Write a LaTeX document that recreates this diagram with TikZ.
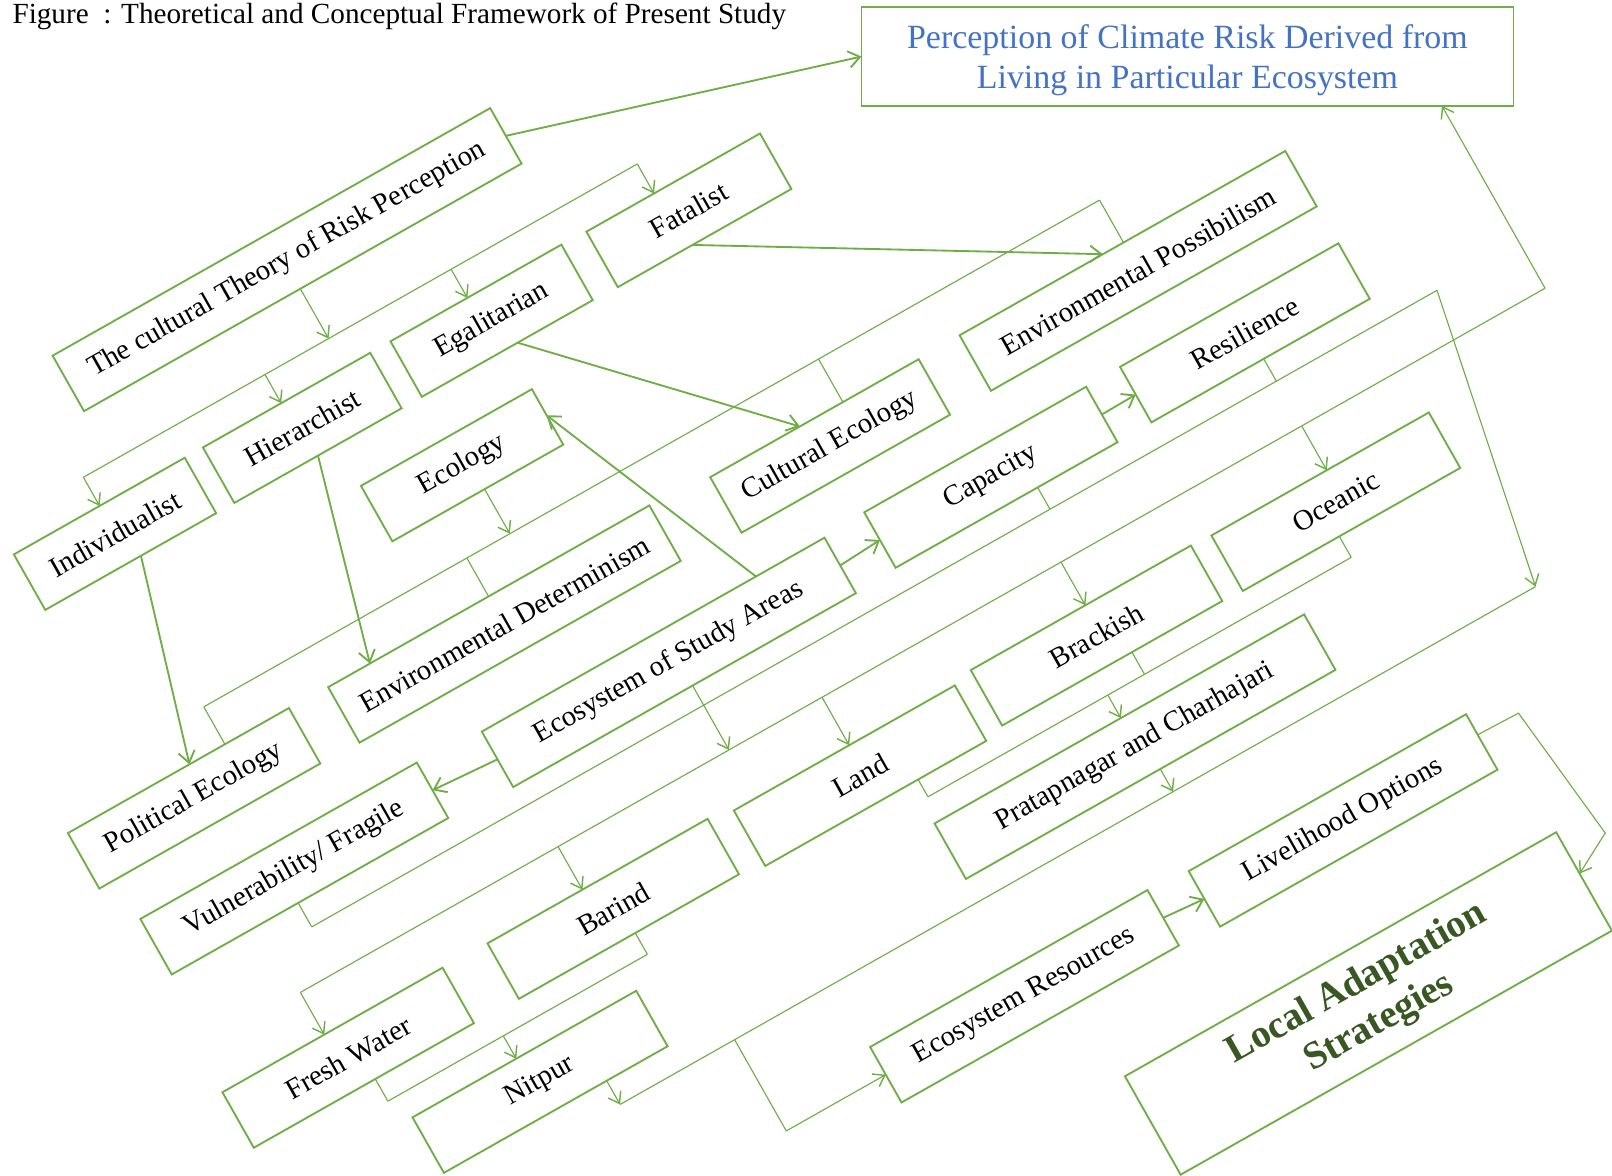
\documentclass[tikz,border=0pt]{standalone}
\usepackage{fontspec}
\setmainfont{Liberation Serif}
\usetikzlibrary{calc,arrows.meta,intersections}
\definecolor{leaf}{HTML}{70AD47}
\definecolor{sky}{HTML}{4472C4}
\definecolor{moss}{HTML}{385723}
\tikzset{
  box/.style={draw=leaf, line width=1.8pt, rectangle, inner sep=0pt, outer sep=0pt,
    minimum height=62pt, rotate=29.5, align=center, text=black,
    font=\fontsize{28}{32}\selectfont},
  link/.style={draw=leaf, line width=1.8pt, -{Straight Barb[length=11pt,width=16pt]}},
  wire/.style={draw=leaf, line width=1.1pt},
  wirearrow/.style={wire, -{Straight Barb[length=10pt,width=14pt,line width=1.4pt]}},
}
\begin{document}
\begin{tikzpicture}[x=1pt,y=-1pt]
\useasboundingbox (0,0) rectangle (1568,1143);
\fill[white] (0,0) rectangle (1568,1143);

% heading
\node[anchor=base west, inner sep=0pt, font=\fontsize{28.4}{32}\selectfont] (title) at (12,23)
  {Figure\ \ : Theoretical and Conceptual Framework of Present Study};

% upright box at the top
\node[draw=leaf, line width=1.6pt, minimum width=634pt, minimum height=96pt,
  inner sep=0pt, outer sep=0pt, align=center, text=sky,
  font=\fontsize{33}{39}\selectfont] (perc) at (1155,55)
  {\rule{0pt}{30pt}Perception of Climate Risk Derived from\\Living in Particular Ecosystem};

% tilted frame: first axis along the boxes, second axis across them
\begin{scope}[x={(0.8704pt,0.4924pt)}, y={(0.4924pt,-0.8704pt)}]
  \node[box, minimum width=489pt] (theory)   at (118.7,357.3)  {The cultural Theory of Risk Perception};
  \node[box, minimum width=191pt] (ind)      at (-158.3,507)   {Individualist};
  \node[box, minimum width=187pt] (hier)     at (51,507)       {Hierarchist};
  \node[box, minimum width=191pt] (egal)     at (262.6,507)    {Egalitarian};
  \node[box, minimum width=194pt] (fat)      at (482.5,508)    {Fatalist};
  \node[box, minimum width=191pt] (ecol)     at (168.4,615.2)  {Ecology};
  \node[box, minimum width=247pt] (poleco)   at (-218,768.8)   {Political Ecology};
  \node[box, minimum width=359pt] (envdet)   at (128.2,769.9)  {Environmental Determinism};
  \node[box, minimum width=233pt] (culteco)  at (489.2,775.1)  {Cultural Ecology};
  \node[box, minimum width=364pt] (envposs)  at (833.8,774.4)  {Environmental Possibilism};
  \node[box, minimum width=309pt] (vuln)     at (-166.8,876.2) {Vulnerability/ Fragile};
  \node[box, minimum width=383pt] (ecostudy) at (249,881.1)    {Ecosystem of Study Areas};
  \node[box, minimum width=248pt] (capacity) at (610.3,878.6)  {Capacity};
  \node[box, minimum width=244pt] (resil)    at (894.5,878)    {Resilience};
  \node[box, minimum width=246pt] (fresh)    at (-211.8,1062.2) {Fresh Water};
  \node[box, minimum width=246pt] (barind)   at (83.9,1063.1)  {Barind};
  \node[box, minimum width=247pt] (land)     at (356.6,1068.6) {Land};
  \node[box, minimum width=246pt] (brackish) at (623.9,1063.2) {Brackish};
  \node[box, minimum width=243pt] (oceanic)  at (890.6,1064.5) {Oceanic};
  \node[box, minimum width=250pt] (nitpur)   at (-60.9,1174.5) {Nitpur};
  \node[box, minimum width=413pt] (prat)     at (603.3,1175.7) {Pratapnagar and Charhajari};
  \node[box, minimum width=310pt] (ecores)   at (390.2,1334.1) {Ecosystem Resources};
  \node[box, minimum width=310pt] (liveli)   at (744.1,1337.8) {Livelihood Options};
  \node[box, minimum width=482pt, minimum height=110pt, text=moss,
        font=\fontsize{38}{44}\selectfont\bfseries] (local) at (677.9,1504.9)
        {Local Adaptation\\Strategies};

  % cultural theory splits into the four types
  \draw[wire] (-158,444) -- (461,444);
  \draw[wirearrow] ($(theory.south west)!(116,444)!(theory.south east)$) -- (116,444);
  \foreach \n/\u in {ind/-158, hier/45, egal/253, fat/461}
    \draw[wirearrow] (\u,444) -- ($(\n.north west)!(\u,444)!(\n.north east)$);

  % ecology branches
  \draw[wire] (-166,696) -- (835,696);
  \draw[wirearrow] ($(ecol.south west)!(176,696)!(ecol.south east)$) -- (176,696);
  \foreach \n/\u in {poleco/-166, envdet/128, culteco/521, envposs/835}
    \draw[wire] (\u,696) -- ($(\n.north west)!(\u,696)!(\n.north east)$);

  % ecosystems of the study areas
  \draw[wire] (-221,984) -- (1170,984);
  \draw[wirearrow] ($(ecostudy.south west)!(258,984)!(ecostudy.south east)$) -- (258,984);
  \foreach \n/\u in {fresh/-221, barind/67, land/362, brackish/629, oceanic/898}
    \draw[wirearrow] (\u,984) -- ($(\n.north west)!(\u,984)!(\n.north east)$);
  \path[name path=percbase] (perc.south west) -- (perc.south east);
  \path[name path=rise] (1170,984) -- (1170,700);
  \draw[wirearrow, name intersections={of=percbase and rise}] (1170,984) -- (intersection-1);

  % vulnerability, capacity and resilience
  \draw[wire] (-180,934) -- (1077.5,934);
  \foreach \n/\u in {vuln/-180, capacity/645, resil/898}
    \draw[wire] ($(\n.south west)!(\u,934)!(\n.south east)$) -- (\u,934);
  \draw[wirearrow] (1077.5,934) -- (1019,1232);

  % fresh water and barind lead to nitpur
  \draw[wire] (-199,1118) -- (91,1118);
  \foreach \n/\u in {fresh/-199, barind/91}
    \draw[wire] ($(\n.south west)!(\u,1118)!(\n.south east)$) -- (\u,1118);
  \draw[wirearrow] (-70,1118) -- ($(nitpur.north west)!(-70,1118)!(nitpur.north east)$);

  % land, brackish and oceanic lead to pratapnagar
  \draw[wire] (404,1119) -- (877,1119);
  \foreach \n/\u in {land/404, brackish/646, oceanic/877}
    \draw[wire] ($(\n.south west)!(\u,1119)!(\n.south east)$) -- (\u,1119);
  \draw[wirearrow] (605,1119) -- ($(prat.north west)!(605,1119)!(prat.north east)$);

  % study sites feed the ecosystem resources
  \draw[wire] (-4,1232) -- (1019,1232);
  \foreach \n/\u in {nitpur/-4, prat/614}
    \draw[wirearrow] ($(\n.south west)!(\u,1232)!(\n.south east)$) -- (\u,1232);
  \draw[wirearrow] (124,1232) -- (124,1334) -- ($(ecores.north west)!(124,1334)!(ecores.south west)$);

  % livelihood options to local adaptation
  \draw[wirearrow] ($(liveli.north east)!.37!(liveli.south east)$) -- (944,1331) -- (960,1474)
    -- ($(local.north east)!.42!(local.south east)$);

  % direct links
  \draw[link] (theory.east) -- (perc.west);
  \draw[link] ($(fat.south west)!.43!(fat.south east)$) -- ($(envposs.north west)!.44!(envposs.north east)$);
  \draw[link] ($(egal.south west)!.56!(egal.south east)$) -- ($(culteco.north west)!.43!(culteco.north east)$);
  \draw[link] (hier.south) -- ($(envdet.north west)!.13!(envdet.north east)$);
  \draw[link] ($(ind.south west)!.56!(ind.south east)$) -- ($(poleco.north west)!.55!(poleco.north east)$);
  \draw[link] ($(ecostudy.north west)!.80!(ecostudy.north east)$) -- ($(ecol.north east)!.47!(ecol.south east)$);
  \draw[link] (ecostudy.west) -- (vuln.east);
  \draw[link] (ecostudy.east) -- (capacity.west);
  \draw[link] (capacity.east) -- (resil.west);
  \draw[link] (ecores.east) -- (liveli.west);
\end{scope}
\end{tikzpicture}
\end{document}
